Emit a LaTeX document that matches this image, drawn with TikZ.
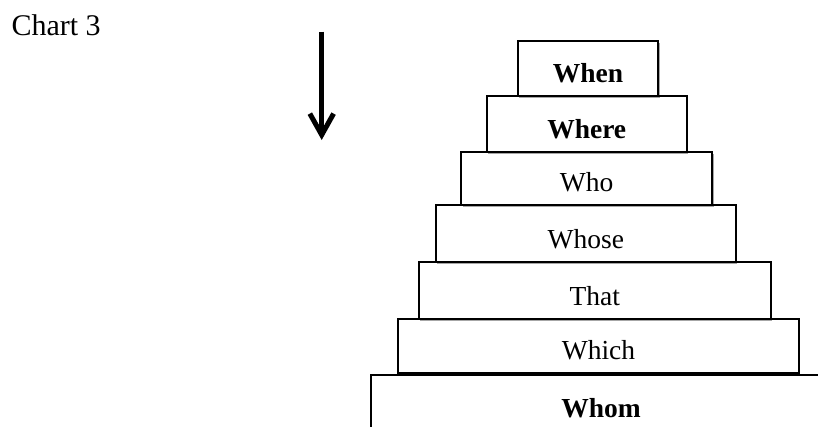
\documentclass[tikz,border=0pt]{standalone}
\usepackage{fontspec}
\setmainfont{Liberation Serif}
\usepackage{tikz}
\usetikzlibrary{arrows.meta,positioning,shadows}

\tikzset{
  tier/.style={draw, rectangle, fill=white, line width=0.8pt, inner xsep=0pt, inner ysep=0pt,
    text depth=5.5pt, font=\fontsize{11}{13}\selectfont,
    drop shadow={shadow xshift=0.6pt, shadow yshift=-0.9pt, opacity=0.35, fill=black}}
}

\begin{document}
\begin{tikzpicture}[x=0.4pt,y=-0.4pt]
            \clip (0,0) rectangle (818,426);
            \fill[white] (0,0) rectangle (818,426);

            % Title
            \node[anchor=base west, inner sep=0pt, font=\fontsize{12}{14}\selectfont] (title) at (11,35.5) {Chart 3};

            % Arrow
            \coordinate (arrtop) at (321.7,31.7);
            \coordinate (arrtip) at (321.7,140);
            \draw[-{Straight Barb[length=8.5pt, width=9.5pt]}, line width=2pt] (arrtop) -- (arrtip);

            % Base (cut off by the page)
            \node[tier, anchor=north west, minimum width=184pt, text height=17.1pt, text depth=17pt] (whom) at (370,374) {\textbf{Whom}};

            % Tiers, bottom up
            \node[tier, minimum width=160.2pt, text height=16.2pt] (which) at (598.5,346.2) {Which};
            \node[tier, minimum width=140.9pt, text height=17.4pt] (that) at (594.8,290.4) {That};
            \node[tier, minimum width=120.1pt, text height=17.2pt] (whose) at (585.8,233.4) {Whose};
            \node[tier, minimum width=100.3pt, text height=15.8pt] (who) at (586.7,178.4) {Who};
            \node[tier, minimum width=80pt, text height=16.8pt] (where) at (586.7,123.9) {\textbf{Where}};
            \node[tier, minimum width=56.2pt, text height=16.6pt] (when) at (588,68.4) {\textbf{When}};
\end{tikzpicture}
\end{document}
